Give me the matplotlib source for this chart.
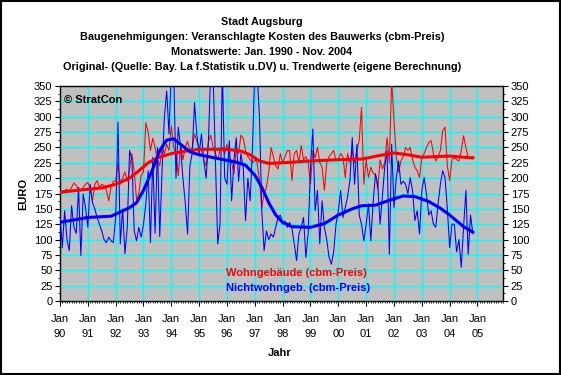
import numpy as np
import matplotlib
matplotlib.use('Agg')
import matplotlib.pyplot as plt
from matplotlib.patches import Rectangle

plt.rcParams['font.family'] = ['Liberation Sans', 'DejaVu Sans']

# monthly values Jan 1990 - Nov 2004 (EURO per cbm)
wohn = [
    177, 178, 180, 182, 178, 185, 192, 188, 182, 180, 185, 190,  # 1990
    193, 183, 163, 190, 196, 185, 190, 188, 180, 163, 185, 195,  # 1991
    195, 225, 190, 200, 210, 195, 215, 240, 210, 165, 175, 205,  # 1992
    210, 290, 275, 245, 265, 250, 230, 220, 250, 240, 255, 245,  # 1993
    285, 250, 240, 204, 255, 230, 250, 260, 245, 250, 272, 260,  # 1994
    250, 245, 230, 220, 260, 270, 250, 240, 230, 245, 250, 240,  # 1995
    255, 235, 225, 207, 250, 240, 270, 265, 245, 235, 230, 225,  # 1996
    230, 225, 196, 152, 175, 185, 210, 250, 235, 220, 215, 240,  # 1997
    225, 235, 245, 245, 196, 240, 245, 225, 253, 230, 235, 225,  # 1998
    190, 245, 233, 250, 225, 218, 180, 225, 235, 240, 245, 228,  # 1999
    230, 240, 235, 201, 240, 225, 245, 225, 245, 261, 315, 190,  # 2000
    230, 201, 218, 208, 205, 182, 230, 215, 225, 266, 225, 360,  # 2001
    293, 235, 210, 228, 235, 250, 245, 250, 230, 218, 212, 201,  # 2002
    235, 240, 250, 258, 261, 240, 228, 235, 245, 277, 283, 220,  # 2003
    196, 230, 233, 230, 228, 245, 269, 250, 233, 232, 235,       # 2004
]
nichtwohn = [
    140, 87, 147, 100, 82, 155, 120, 110, 185, 74, 174, 152,     # 1990
    120, 190, 160, 150, 136, 125, 114, 100, 95, 104, 98, 95,     # 1991
    136, 291, 93, 150, 77, 120, 245, 230, 114, 98, 120, 104,     # 1992
    125, 158, 212, 95, 234, 110, 250, 105, 212, 299, 342, 272,   # 1993
    380, 380, 200, 283, 250, 200, 160, 109, 220, 240, 323, 270,  # 1994
    240, 272, 228, 200, 260, 380, 370, 230, 93, 125, 380, 200,   # 1995
    190, 261, 163, 230, 266, 195, 240, 217, 131, 200, 163, 250,  # 1996
    380, 370, 299, 147, 82, 114, 100, 109, 104, 120, 136, 140,   # 1997
    125, 130, 120, 128, 118, 93, 66, 109, 120, 136, 71, 110,     # 1998
    218, 280, 147, 180, 93, 163, 120, 100, 71, 60, 80, 125,      # 1999
    147, 180, 136, 152, 170, 196, 266, 190, 255, 140, 125, 98,   # 2000
    125, 158, 98, 160, 207, 190, 125, 170, 218, 245, 76, 255,    # 2001
    152, 200, 228, 190, 195, 190, 175, 201, 180, 131, 147, 109,  # 2002
    180, 201, 174, 140, 147, 125, 120, 158, 190, 212, 201, 150,  # 2003
    87, 125, 125, 80, 100, 55, 120, 180, 76, 140, 110,           # 2004
]

# trend values (month index since Jan 1990)
wohn_trend_m = [0, 12, 18, 24, 30, 34, 38, 42, 48, 54, 60, 72, 78, 82, 86, 90,
                96, 108, 120, 130, 138, 144, 150, 156, 162, 168, 174, 178]
wohn_trend = [177, 182, 184, 190, 200, 212, 225, 233, 240, 244, 247, 247, 244, 238, 228, 224,
              225, 228, 230, 231, 237, 241, 238, 234, 235, 236, 234, 233]
nw_trend_m = [0, 12, 22, 26, 30, 33, 36, 40, 43, 46, 49, 52, 56, 60, 68, 76, 80, 84, 87, 90,
              93, 96, 100, 108, 114, 120, 126, 130, 136, 142, 148, 153, 159, 164, 168, 174, 178]
nw_trend = [128, 136, 138, 145, 152, 160, 180, 215, 245, 262, 264, 255, 243, 238, 232, 226, 221, 205, 185, 160,
            140, 128, 121, 120, 126, 140, 150, 155, 156, 164, 171, 170, 162, 151, 140, 121, 112]

years = ['90', '91', '92', '93', '94', '95', '96', '97', '98', '99', '00', '01', '02', '03', '04', '05']
titles = ['Stadt Augsburg',
          'Baugenehmigungen: Veranschlagte Kosten des Bauwerks (cbm-Preis)',
          'Monatswerte: Jan. 1990 - Nov. 2004',
          'Original- (Quelle: Bay. La f.Statistik u.DV) u. Trendwerte (eigene Berechnung)']

W, H = 561, 375
fig = plt.figure(figsize=(W / 100, H / 100), dpi=100)
fig.patch.set_facecolor('white')
fig.patches.append(Rectangle((0.001, 0.002), 0.997, 0.995, transform=fig.transFigure,
                             fill=False, edgecolor='black', linewidth=1.5))

ax = fig.add_axes([60 / W, 1 - 301 / H, (503 - 60) / W, (301 - 86) / H])
ax.set_facecolor('#c0c0c0')

months = np.arange(len(wohn))
ax.plot(months, wohn, color='#ff0000', lw=0.75, zorder=3)
ax.plot(months, nichtwohn, color='#0000ff', lw=0.75, zorder=3)
ax.plot(wohn_trend_m, wohn_trend, color='#ff0000', lw=2.2, zorder=4)
ax.plot(nw_trend_m, nw_trend, color='#0000ff', lw=2.2, zorder=4)

ax.set_xlim(0, 191)
ax.set_ylim(0, 350)
ax.set_yticks(np.arange(0, 351, 25))
ax.set_yticks(np.arange(0, 351, 12.5), minor=True)
ax.set_xticks(np.arange(0, 192, 12))
ax.set_xticklabels(['Jan\n' + y for y in years])
ax.set_xticks(np.arange(0, 192, 1), minor=True)
ax.grid(True, which='major', color='#00ffff', lw=1, zorder=1)
ax.set_axisbelow(True)
ax.tick_params(axis='both', which='major', direction='out', length=3.5, width=0.8,
               labelsize=8, pad=2)
ax.tick_params(axis='both', which='minor', direction='out', length=1.5, width=0.6)
ax.tick_params(axis='y', right=True, labelright=True, which='both')
ax.tick_params(axis='x', pad=6)
for lab in ax.get_xticklabels():
    lab.set_linespacing(1.6)
for s in ax.spines.values():
    s.set_color('black')
    s.set_linewidth(1)

ax.set_ylabel('EURO', fontsize=8, fontweight='bold', labelpad=4)
fig.text(280 / W, 1 - 353 / H, 'Jahr', ha='center', va='center', fontsize=8, fontweight='bold')

for i, t in enumerate(titles):
    fig.text(262 / W, 1 - (22 + 15 * i) / H, t, ha='center', va='center',
             fontsize=7.8, fontweight='bold')

ax.text(0.01, 0.935, '© StratCon', transform=ax.transAxes, fontsize=8, fontweight='bold',
        ha='left', va='center', zorder=5)
ax.text((226 - 60) / 443, (301 - 273) / 215, 'Wohngebäude (cbm-Preis)', transform=ax.transAxes,
        color='#ff0000', fontsize=8, fontweight='bold', ha='left', va='center', zorder=5)
ax.text((226 - 60) / 443, (301 - 288) / 215, 'Nichtwohngeb. (cbm-Preis)', transform=ax.transAxes,
        color='#0000ff', fontsize=8, fontweight='bold', ha='left', va='center', zorder=5)

fig.savefig('out.png', dpi=100)
